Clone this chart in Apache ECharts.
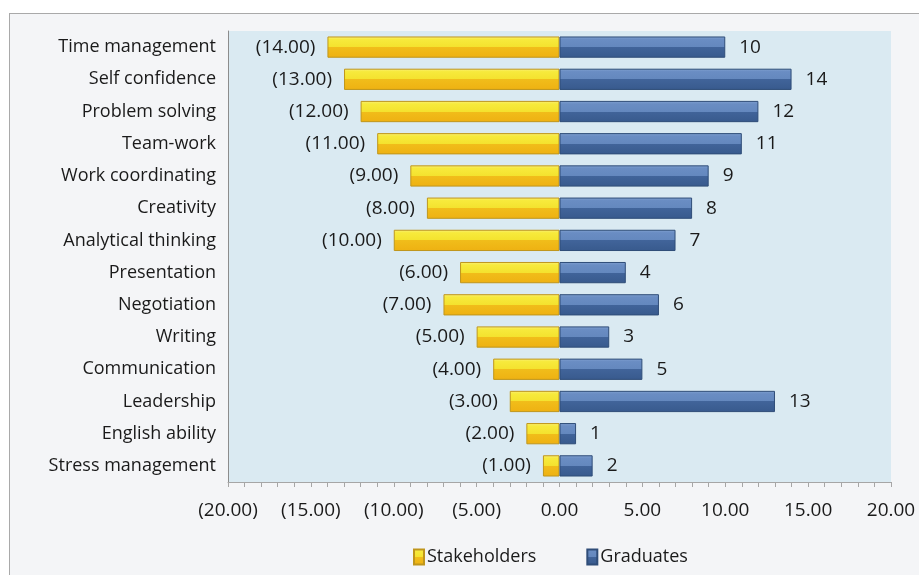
<!DOCTYPE html>
<html lang="en">
<head>
    <meta charset="UTF-8">
    <title>Skills gap</title>
    <style type="text/css">
        html, body { margin: 0; padding: 0; background: #ffffff; overflow: hidden; }
        #frame {
            position: absolute; left: 9px; top: 13px;
            width: 940px; height: 600px;
            border-top: 1px solid #a9a9a9; border-left: 1px solid #a9a9a9;
            background: #f4f5f7;
        }
        #chart {
            position: absolute; left: 0; top: 0;
            width: 919px; height: 575px;
        }
    </style>
    <script src="https://cdn.jsdelivr.net/npm/echarts@6/dist/echarts.min.js"></script>
</head>
<body>
<div id="frame"></div>
<div id="chart"></div>
<script type="application/javascript">
    var skills = ['Time management', 'Self confidence', 'Problem solving', 'Team-work',
        'Work coordinating', 'Creativity', 'Analytical thinking', 'Presentation',
        'Negotiation', 'Writing', 'Communication', 'Leadership', 'English ability',
        'Stress management'];
    var stakeholders = [14, 13, 12, 11, 9, 8, 10, 6, 7, 5, 4, 3, 2, 1];
    var graduates = [10, 14, 12, 11, 9, 8, 7, 4, 6, 3, 5, 13, 1, 2];

    var fontName = 'Open Sans';

    function money(v) {
        // excel style accounting number
        return v < 0 ? '(' + Math.abs(v).toFixed(2) + ')' : v.toFixed(2);
    }

    var yellowFill = new echarts.graphic.LinearGradient(0, 0, 0, 1, [
        {offset: 0, color: '#faf07a'},
        {offset: 0.14, color: '#f7ea3c'},
        {offset: 0.5, color: '#f4e22e'},
        {offset: 0.5, color: '#f1bd1a'},
        {offset: 1, color: '#eeb112'}
    ]);
    var blueFill = new echarts.graphic.LinearGradient(0, 0, 0, 1, [
        {offset: 0, color: '#82a2d1'},
        {offset: 0.14, color: '#6a8dc3'},
        {offset: 0.5, color: '#6488be'},
        {offset: 0.5, color: '#41649a'},
        {offset: 1, color: '#385a8d'}
    ]);

    var myChart = echarts.init(document.getElementById('chart'));
    var option = {
        backgroundColor: 'transparent',
        textStyle: {fontFamily: fontName},
        animation: false,
        grid: {
            left: 228, right: 28, top: 31, bottom: 93,
            show: true, backgroundColor: '#daeaf2', borderWidth: 0
        },
        legend: {
            top: 543, left: 408,
            icon: 'rect',
            itemWidth: 10, itemHeight: 15, itemGap: 50,
            textStyle: {fontSize: 18, color: '#1a1a1a', fontFamily: fontName, padding: [0, 0, 0, -2]},
            data: ['Stakeholders', 'Graduates']
        },
        xAxis: {
            type: 'value', min: -20, max: 20, interval: 5,
            splitLine: {show: false},
            axisLine: {show: true, lineStyle: {color: '#a6a6a6'}},
            axisTick: {show: true, length: 5, lineStyle: {color: '#a6a6a6'}},
            minorTick: {show: true, splitNumber: 5, length: 5, lineStyle: {color: '#a6a6a6'}},
            axisLabel: {
                fontSize: 19, color: '#1a1a1a', margin: 19,
                formatter: function (v) { return money(v); }
            }
        },
        yAxis: [{
            type: 'category', data: skills, inverse: true,
            axisLine: {show: false},
            axisTick: {show: false},
            axisLabel: {fontSize: 18, color: '#1a1a1a', margin: 12}
        }, {
            type: 'category', data: skills, inverse: true, position: 'left',
            axisLine: {show: true, onZero: true, lineStyle: {color: '#8c8c8c'}},
            axisTick: {show: false},
            axisLabel: {show: false}
        }],
        series: [{
            name: 'Stakeholders', type: 'bar', yAxisIndex: 0,
            barWidth: '66%', barGap: '-100%',
            data: stakeholders.map(function (v) { return -v; }),
            itemStyle: {color: yellowFill, borderColor: '#bf961c', borderWidth: 1},
            label: {
                show: true, position: 'left', distance: 12,
                fontSize: 19, color: '#1a1a1a',
                formatter: function (p) { return money(p.value); }
            }
        }, {
            name: 'Graduates', type: 'bar', yAxisIndex: 0,
            barWidth: '66%', barGap: '-100%',
            data: graduates,
            itemStyle: {color: blueFill, borderColor: '#2f4d78', borderWidth: 1},
            label: {
                show: true, position: 'right', distance: 14,
                fontSize: 19, color: '#1a1a1a'
            }
        }]
    };
    myChart.setOption(option);
</script>
</body>
</html>
